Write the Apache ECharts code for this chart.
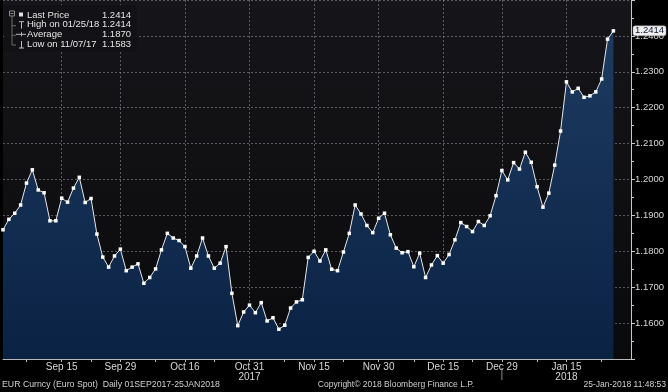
<!DOCTYPE html>
<html><head><meta charset="utf-8">
<script src="https://cdn.jsdelivr.net/npm/echarts@6/dist/echarts.min.js"></script>
<style>html,body{margin:0;padding:0;background:#000;}#c{width:668px;height:392px;}</style>
</head><body><div id="c"></div>
<script>
// ---- data ----
const startDate = '2017-09-01';
const endDate = '2018-01-25';
const prices = [
1.1860,1.1889,1.1906,1.1929,1.1990,1.2027,1.1971,1.1963,1.1885,1.1885,
1.1948,1.1937,1.1976,1.2006,1.1936,1.1947,1.1848,1.1784,1.1756,1.1787,
1.1806,1.1746,1.1756,1.1765,1.1711,1.1727,1.1751,1.1804,1.1850,1.1837,
1.1830,1.1813,1.1753,1.1787,1.1837,1.1787,1.1753,1.1767,1.1813,1.1683,
1.1593,1.1631,1.1650,1.1629,1.1657,1.1606,1.1615,1.1583,1.1594,1.1642,
1.1659,1.1665,1.1783,1.1800,1.1773,1.1804,1.1750,1.1746,1.1798,1.1850,
1.1929,1.1904,1.1872,1.1852,1.1892,1.1906,1.1846,1.1809,1.1796,1.1799,
1.1757,1.1795,1.1727,1.1762,1.1788,1.1767,1.1791,1.1832,1.1880,1.1869,
1.1855,1.1883,1.1872,1.1899,1.1955,1.2025,1.1999,1.2047,1.2029,1.2076,
1.2048,1.1980,1.1923,1.1962,1.2040,1.2135,1.2272,1.2244,1.2254,1.2229,
1.2233,1.2244,1.2280,1.2391,1.2414
];
const tickDates = ['2017-09-15','2017-09-29','2017-10-16','2017-10-31','2017-11-15','2017-11-30','2017-12-15','2017-12-29','2018-01-15'];
const tickLabels = ['Sep 15','Sep 29','Oct 16','Oct 31\n2017','Nov 15','Nov 30','Dec 15','Dec 29','Jan 15\n2018'];
const minorTickDates = ['2017-09-07','2017-09-22','2017-10-09','2017-10-23','2017-11-08','2017-11-22','2017-12-08','2017-12-22','2018-01-08','2018-01-23'];
const padCategories = ['pad1','pad2','pad3'];
const legendNames = ['Last Price','High on 01/25/18','Average','Low on 11/07/17'];
const legendValues = ['1.2414','1.2414','1.1870','1.1583'];
const yLabelsMin = 1.15, yLabelsMax = 1.25, yStep = 0.01;
const footerLeft = 'EUR Curncy (Euro Spot)  Daily 01SEP2017-25JAN2018';
const footerMid = 'Copyright\u00A9 2018 Bloomberg Finance L.P.';
const footerRight = '25-Jan-2018 11:48:53';

// ---- categories (business days) ----
function pad2(n){return (n<10?'0':'')+n;}
const categories = [];
{
  let d = new Date(startDate+'T00:00:00Z');
  const e = new Date(endDate+'T00:00:00Z');
  while (d <= e) {
    const wd = d.getUTCDay();
    if (wd !== 0 && wd !== 6) categories.push(d.getUTCFullYear()+'-'+pad2(d.getUTCMonth()+1)+'-'+pad2(d.getUTCDate()));
    d = new Date(d.getTime()+86400000);
  }
}
const allCats = categories.concat(padCategories);
const labelMap = {}; tickDates.forEach((t,i)=>labelMap[t]=tickLabels[i]);
const majorSet = new Set(tickDates), minorSet = new Set(minorTickDates);

const FONT = '"Liberation Sans", Arial, sans-serif';
const chart = echarts.init(document.getElementById('c'), null, {renderer:'canvas'});
chart.setOption({
  backgroundColor:'#000',
  animation:false,
  grid:{left:3,right:37,top:0,bottom:33,show:true,borderWidth:0,
    backgroundColor:new echarts.graphic.LinearGradient(0,0,0,1,[{offset:0,color:'#16161a'},{offset:1,color:'#0a0a0c'}])},
  xAxis:{type:'category',data:allCats,boundaryGap:false,
    axisLine:{lineStyle:{color:'#b8b8b8',width:1}},
    axisTick:{show:true,length:3,lineStyle:{color:'#b8b8b8'},interval:(i,v)=>majorSet.has(v)||minorSet.has(v)},
    axisLabel:{interval:(i,v)=>majorSet.has(v),formatter:v=>labelMap[v]||'',color:'#d8d8d8',fontFamily:FONT,fontSize:10,lineHeight:10,margin:3},
    splitLine:{show:true,interval:(i,v)=>majorSet.has(v),lineStyle:{color:'rgba(150,150,160,0.55)',type:[2,2],width:1}}
  },
  yAxis:{type:'value',position:'right',min:yLabelsMin,max:yLabelsMax,interval:yStep,
    axisLine:{show:true,lineStyle:{color:'#c8c8c8',width:1}},
    axisTick:{show:true,length:4,lineStyle:{color:'#c8c8c8'}},
    minorTick:{show:true,splitNumber:2,length:3,lineStyle:{color:'#c8c8c8'}},
    axisLabel:{formatter:v=>v.toFixed(4),color:'#d8d8d8',fontFamily:FONT,fontSize:9.5,margin:4,showMinLabel:false,showMaxLabel:false},
    splitLine:{show:true,lineStyle:{color:'rgba(150,150,160,0.55)',type:[2,2],width:1}}
  },
  series:[{type:'line',data:prices,symbol:'rect',symbolSize:3.5,showAllSymbol:true,
    itemStyle:{color:'#ffffff'},
    lineStyle:{color:'#e6e6e6',width:1},
    areaStyle:{color:new echarts.graphic.LinearGradient(0,0,0,1,[{offset:0,color:'#1d3b60'},{offset:1,color:'#0a2244'}]),opacity:1},
    z:3
  }]
});

// ---- overlays ----
const last = prices[prices.length-1];
const lastY = chart.convertToPixel({yAxisIndex:0}, last);
const decX = chart.convertToPixel({xAxisIndex:0}, '2017-12-29');
const rowY = [15,24.7,34.3,44];
const g = [];
g.push({type:'rect',shape:{x:4,y:5,width:133,height:47},style:{fill:'rgba(18,18,22,0.94)'},z:100});
// tree lines
g.push({type:'rect',shape:{x:9.5,y:11,width:5,height:5},style:{fill:'none',stroke:'#8a8a8a',lineWidth:1},z:101});
g.push({type:'line',shape:{x1:10.5,y1:13.5,x2:13.5,y2:13.5},style:{stroke:'#8a8a8a',lineWidth:1},z:101});
g.push({type:'line',shape:{x1:12,y1:16,x2:12,y2:45},style:{stroke:'#6a6a6a',lineWidth:1},z:101});
[1,2,3].forEach(k=>g.push({type:'line',shape:{x1:12,y1:rowY[k]+1,x2:16,y2:rowY[k]+1},style:{stroke:'#6a6a6a',lineWidth:1},z:101}));
// icons
g.push({type:'rect',shape:{x:19,y:rowY[0]-2.5,width:4,height:4},style:{fill:'#e0e0e0'},z:101});
g.push({type:'line',shape:{x1:19,y1:rowY[1]-3,x2:24,y2:rowY[1]-3},style:{stroke:'#bbb',lineWidth:1},z:101});
g.push({type:'line',shape:{x1:21.5,y1:rowY[1]-3,x2:21.5,y2:rowY[1]+4},style:{stroke:'#bbb',lineWidth:1},z:101});
g.push({type:'line',shape:{x1:16,y1:rowY[2],x2:26,y2:rowY[2]},style:{stroke:'#bbb',lineWidth:1},z:101});
g.push({type:'line',shape:{x1:21.5,y1:rowY[2]-2,x2:21.5,y2:rowY[2]+2},style:{stroke:'#bbb',lineWidth:1},z:101});
g.push({type:'line',shape:{x1:19,y1:rowY[3]+4,x2:24,y2:rowY[3]+4},style:{stroke:'#bbb',lineWidth:1},z:101});
g.push({type:'line',shape:{x1:21.5,y1:rowY[3]-3,x2:21.5,y2:rowY[3]+4},style:{stroke:'#bbb',lineWidth:1},z:101});
legendNames.forEach((n,k)=>{
  g.push({type:'text',x:27,y:rowY[k],style:{text:n,fill:'#e4e4e4',font:'9.5px '+FONT,textVerticalAlign:'middle',verticalAlign:'middle'},z:102});
  g.push({type:'text',x:131,y:rowY[k],style:{text:legendValues[k],fill:'#e4e4e4',font:'9.5px '+FONT,textAlign:'right',align:'right',verticalAlign:'middle',textVerticalAlign:'middle'},z:102});
});
// last price tag
g.push({type:'rect',shape:{x:633,y:lastY-5,width:33,height:10,r:2},style:{fill:'#eeeeee',stroke:'#999',lineWidth:0.5},z:110});
g.push({type:'text',x:649.5,y:lastY,style:{text:last.toFixed(4),fill:'#0d1b33',font:'9.5px '+FONT,textAlign:'center',align:'center',verticalAlign:'middle',textVerticalAlign:'middle'},z:111});
// year separator
g.push({type:'line',shape:{x1:decX,y1:368,x2:decX,y2:380},style:{stroke:'#8a8a8a',lineWidth:1},z:50});
// footer
g.push({type:'text',x:2,y:385,style:{text:footerLeft,fill:'#d0d0d0',font:'8.75px '+FONT,verticalAlign:'middle',textVerticalAlign:'middle'},z:50});
g.push({type:'text',x:396,y:385,style:{text:footerMid,fill:'#d0d0d0',font:'8.5px '+FONT,textAlign:'center',align:'center',verticalAlign:'middle',textVerticalAlign:'middle'},z:50});
g.push({type:'text',x:666,y:385,style:{text:footerRight,fill:'#d0d0d0',font:'8.5px '+FONT,textAlign:'right',align:'right',verticalAlign:'middle',textVerticalAlign:'middle'},z:50});
chart.setOption({graphic:{elements:g}});
</script></body></html>
